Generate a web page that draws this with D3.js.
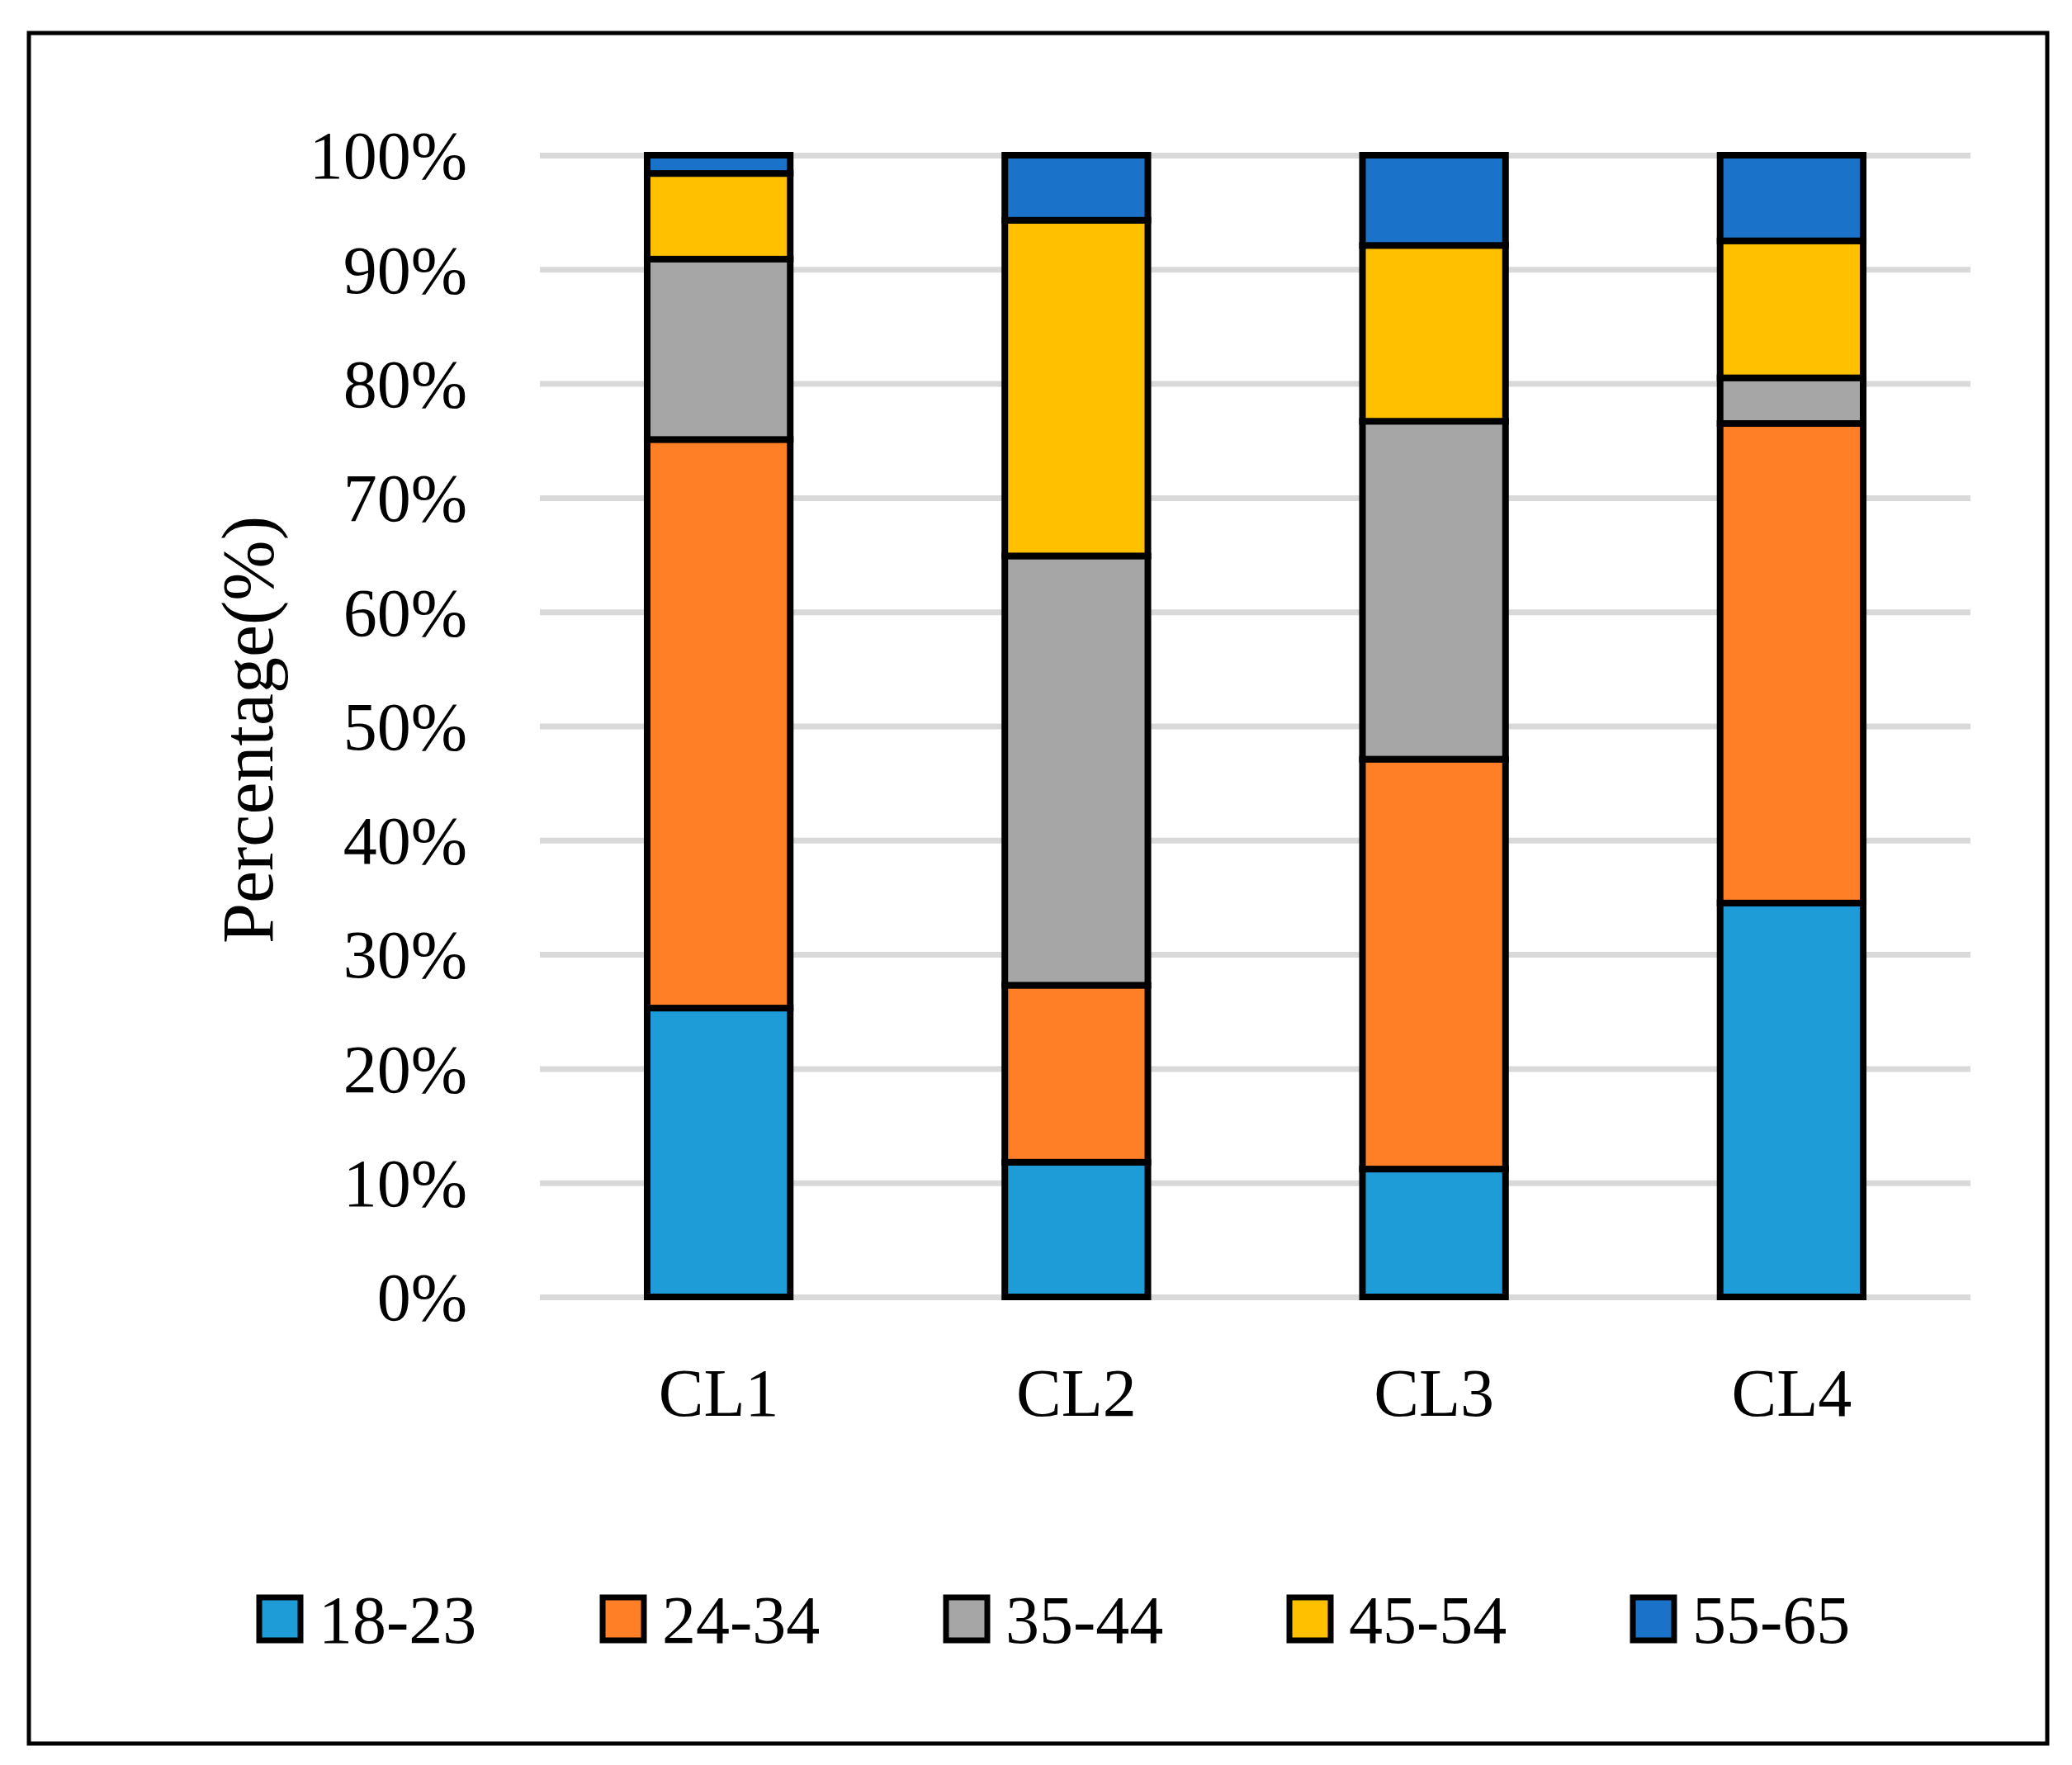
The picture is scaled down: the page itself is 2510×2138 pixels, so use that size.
<!DOCTYPE html>
<html>
<head>
<meta charset="utf-8">
<script src="https://cdn.jsdelivr.net/npm/d3@7"></script>
<style>
  html, body { margin: 0; padding: 0; background: #fff; }
  svg text { font-family: "Palatino Linotype", "Book Antiqua", "Liberation Serif", serif; fill: #000; }
</style>
</head>
<body>
<svg id="chart"></svg>
<script>
const width = 2510;
const height = 2138;

// clusters and age groups
const clusters = ["CL1", "CL2", "CL3", "CL4"];
const ageGroups = ["18-23", "24-34", "35-44", "45-54", "55-65"];
const groupColors = ["#1E9CD8", "#FF7F27", "#A6A6A6", "#FFC000", "#1A73C8"];

// percentage per age group, one value per cluster
const share1823 = [25.3, 11.8, 11.2, 34.5];
const share2434 = [49.8, 15.5, 35.9, 42.0];
const share3544 = [15.8, 37.6, 29.6, 4.0];
const share4554 = [7.5, 29.4, 15.4, 12.0];
const share5565 = [1.6, 5.7, 7.9, 7.5];

const yTicks = [0, 10, 20, 30, 40, 50, 60, 70, 80, 90, 100];

const rows = clusters.map((c, i) => ({
    cluster: c,
    "18-23": share1823[i],
    "24-34": share2434[i],
    "35-44": share3544[i],
    "45-54": share4554[i],
    "55-65": share5565[i]
}));

const plot = {left: 654, right: 2387, top: 188, bottom: 1571};

const svg = d3.select("#chart")
    .attr("width", width)
    .attr("height", height);

//------------ frame ------------------------------------------------------------//
svg.append("rect")
    .attr("x", 35).attr("y", 40)
    .attr("width", 2445).attr("height", 2072)
    .attr("fill", "#fff")
    .attr("stroke", "#000")
    .attr("stroke-width", 5);

//------------ scales -----------------------------------------------------------//
const x = d3.scaleBand()
    .domain(clusters)
    .range([plot.left, plot.right])
    .paddingInner(0.6)
    .paddingOuter(0.3);

const y = d3.scaleLinear()
    .domain([0, 100])
    .range([plot.bottom, plot.top]);

//------------ grid + y axis ----------------------------------------------------//
const yAxis = svg.append("g")
    .attr("transform", `translate(${plot.left},0)`)
    .call(d3.axisLeft(y)
        .tickValues(yTicks)
        .tickSize(-(plot.right - plot.left))
        .tickPadding(88)
        .tickFormat(d => d + "%"));

yAxis.select(".domain").remove();
yAxis.selectAll(".tick line")
    .attr("stroke", "#d9d9d9")
    .attr("stroke-width", 7);
yAxis.selectAll(".tick text")
    .attr("font-size", 82)
    .attr("dy", "0.34em");

//------------ stacked bars -----------------------------------------------------//
const stacked = d3.stack().keys(ageGroups)(rows);
const color = d3.scaleOrdinal().domain(ageGroups).range(groupColors);

svg.append("g")
    .selectAll("g")
    .data(stacked)
    .join("g")
    .attr("fill", d => color(d.key))
    .selectAll("rect")
    .data(d => d)
    .join("rect")
    .attr("x", d => x(d.data.cluster))
    .attr("width", x.bandwidth())
    .attr("y", d => y(d[1]))
    .attr("height", d => y(d[0]) - y(d[1]))
    .attr("stroke", "#000")
    .attr("stroke-width", 8);

//------------ x labels ---------------------------------------------------------//
const xAxis = svg.append("g")
    .attr("transform", `translate(0,${plot.bottom})`)
    .call(d3.axisBottom(x).tickSize(0).tickPadding(86));
xAxis.select(".domain").remove();
xAxis.selectAll(".tick text")
    .attr("font-size", 82)
    .attr("dy", "0.71em");

//------------ axis title -------------------------------------------------------//
svg.append("text")
    .attr("transform", "translate(330,884) rotate(-90)")
    .attr("text-anchor", "middle")
    .attr("font-size", 88)
    .text("Percentage(%)");

//------------ legend -----------------------------------------------------------//
const legend = svg.append("g")
    .selectAll("g")
    .data(ageGroups)
    .join("g")
    .attr("transform", (d, i) => `translate(${314 + i * 416},1935)`);

legend.append("rect")
    .attr("width", 50).attr("height", 52)
    .attr("fill", d => color(d))
    .attr("stroke", "#000")
    .attr("stroke-width", 7);

legend.append("text")
    .attr("x", 72)
    .attr("y", 26)
    .attr("dy", "0.35em")
    .attr("font-size", 82)
    .text(d => d);
</script>
</body>
</html>
